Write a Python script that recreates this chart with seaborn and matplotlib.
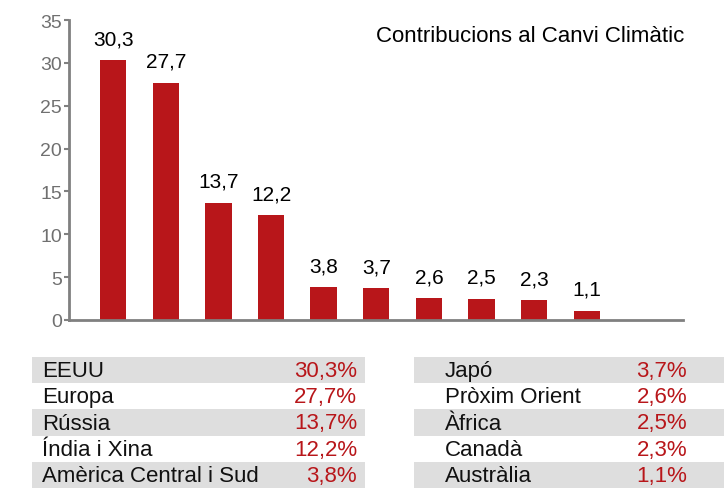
import matplotlib
matplotlib.use("Agg")
import matplotlib.pyplot as plt
import seaborn as sns
import pandas as pd
from matplotlib.patches import Rectangle

regions = ["EEUU", "Europa", "Rússia", "Índia i Xina", "Amèrica Central i Sud",
           "Japó", "Pròxim Orient", "Àfrica", "Canadà", "Austràlia"]
values = [30.3, 27.7, 13.7, 12.2, 3.8, 3.7, 2.6, 2.5, 2.3, 1.1]
yticks = [0, 5, 10, 15, 20, 25, 30, 35]
title = "Contribucions al Canvi Climàtic"

RED = "#B8161A"
GREY = "#808080"
TEXTGREY = "#707070"

sns.set_theme(style="white")
plt.rcParams['font.family'] = ['Liberation Sans', 'DejaVu Sans']

W, H = 727, 489
fig = plt.figure(figsize=(W / 100, H / 100), dpi=100)

def fx(px):
    return px / W

def fy(py):
    return 1 - py / H

# main bar axes
ax = fig.add_axes([fx(69), fy(321), fx(683) - fx(69), fy(21) - fy(321)])
df = pd.DataFrame({"region": regions, "value": values})
sns.barplot(data=df, x="region", y="value", color=RED, saturation=1,
            width=0.5, ax=ax, edgecolor="none")
ax.set_xlim(-0.84, 10.83)
ax.set_ylim(0, 35)
ax.set_yticks(yticks)
ax.set_yticklabels([str(t) for t in yticks], fontsize=14, color=TEXTGREY)
ax.set_xticks([])
ax.set_xlabel("")
ax.set_ylabel("")
for s in ["top", "right"]:
    ax.spines[s].set_visible(False)
for s in ["left", "bottom"]:
    ax.spines[s].set_color(GREY)
    ax.spines[s].set_linewidth(2)
ax.tick_params(axis="y", left=True, length=3.5, width=1.5, color=GREY, pad=1.5)
for i, v in enumerate(values):
    ax.text(i, v + 1.35, f"{v:.1f}".replace(".", ","), ha="center", va="bottom",
            fontsize=15, color="black")
ax.text(1.003, 0.985, title, transform=ax.transAxes, ha="right", va="top",
        fontsize=16, color="black")

# table axes (pixel coordinates)
tax = fig.add_axes([0, 0, 1, 1])
tax.set_xlim(0, W)
tax.set_ylim(H, 0)
tax.axis("off")
tax.patch.set_alpha(0)

row_top = 358
row_h = 26.2
tables = [(32, 365, 42, 357, 0), (414, 724, 445, 687, 5)]
for x0, x1, name_x, pct_x, start in tables:
    for r in range(5):
        y0 = row_top + r * row_h
        if r % 2 == 0:
            tax.add_patch(Rectangle((x0, y0), x1 - x0, row_h, facecolor="#DEDEDE",
                                    edgecolor="none"))
        idx = start + r
        yc = y0 + row_h / 2 + 0.5
        tax.text(name_x, yc, regions[idx], ha="left", va="center", fontsize=16,
                 color="#111111")
        tax.text(pct_x, yc, f"{values[idx]:.1f}%".replace(".", ","), ha="right",
                 va="center", fontsize=16, color=RED)

fig.savefig("out.png", dpi=100)
